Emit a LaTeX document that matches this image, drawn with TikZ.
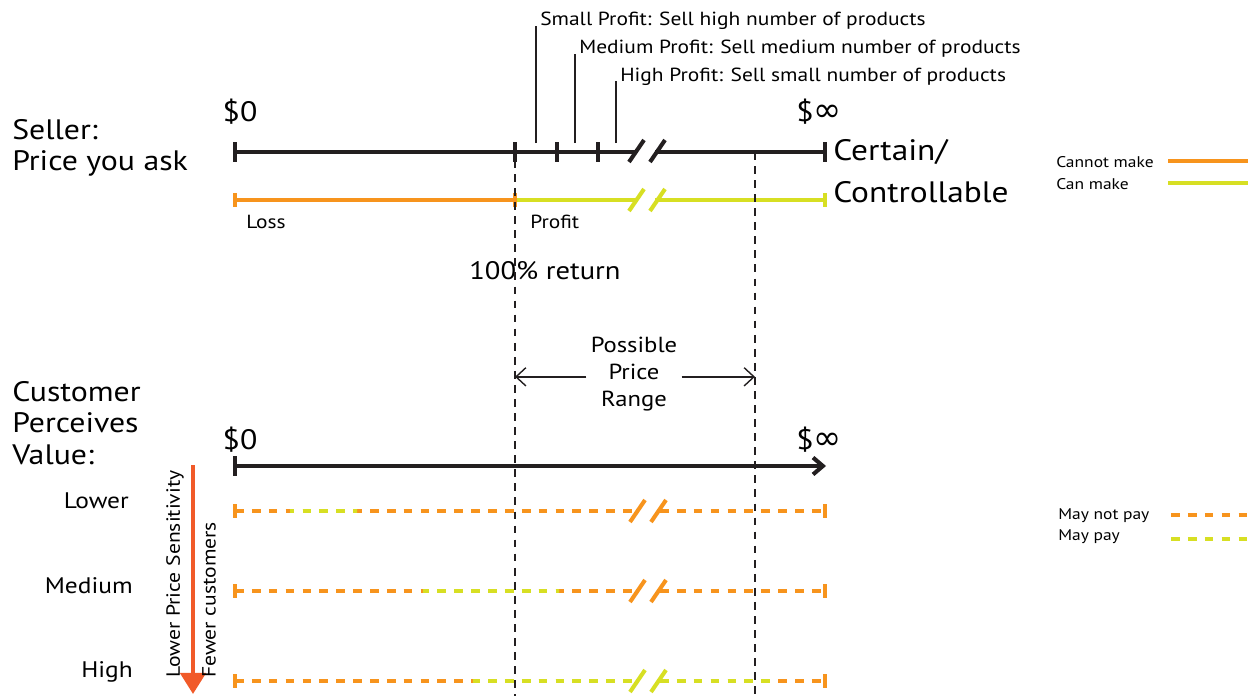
\documentclass[tikz,border=0pt]{standalone}
\usepackage{fontspec}
\setmainfont{PT Sans}[FakeStretch=1.13]
\newfontfamily\symfont{DejaVu Sans}
\usetikzlibrary{positioning,calc,arrows.meta}
\definecolor{lossorange}{RGB}{247,148,29}
\definecolor{profitgreen}{RGB}{215,223,35}
\definecolor{sensred}{RGB}{241,90,41}
\definecolor{inkblack}{RGB}{35,31,32}

\begin{document}
\begin{tikzpicture}[x=0.025cm, y=-0.025cm,
    axis/.style={line width=2.9pt, inkblack},
    tickmark/.style={line width=2.2pt, inkblack},
    solidpay/.style={line width=2.9pt},
    paydash/.style={line width=3pt, dash pattern=on 6.2pt off 5.8pt},
    guide/.style={line width=1pt, inkblack, dash pattern=on 5.5pt off 4.5pt},
    leader/.style={line width=1pt, inkblack},
    rangearrow/.style={-{Straight Barb[length=7pt, width=13pt]}, line width=1pt, inkblack},
    biglabel/.style={font=\fontsize{20}{22.3}\selectfont, inner sep=0pt, align=left},
    label/.style={font=\fontsize{13.5}{16}\selectfont, inner sep=0pt},
    rowlabel/.style={font=\fontsize{16}{19}\selectfont, inner sep=0pt},
    sidelabel/.style={font=\fontsize{13.6}{16}\selectfont, inner sep=0pt, rotate=90, anchor=west},
    legendlabel/.style={font=\fontsize{11}{13}\selectfont, inner sep=0pt}
]
\useasboundingbox (0,0) rectangle (1255,696);

% Seller axis
\node[biglabel, anchor=west] (seller) at (12,148) {Seller:\\Price you ask};
\node[biglabel, anchor=center] (zero1) at (240,112) {\$0};
\node[biglabel, anchor=center] (inf1) at (819,112) {\$\symfont\fontsize{24}{24}\selectfont ∞};
\node[biglabel, font=\fontsize{21}{24}\selectfont, anchor=west] (certain) at (833,152) {Certain/};
\node[biglabel, font=\fontsize{21}{24}\selectfont, anchor=west] (control) at (833,192) {Controllable};

\draw[axis] (235,152) -- (636,152) (655,152) -- (825,152);
\foreach \tx in {235,515,557,598,825}
    \draw[tickmark] (\tx,142) -- (\tx,162);
\foreach \sx in {629,650}
    \draw[axis] (\sx,162) -- ++(15,-22);

% Profit levels
\node[label, anchor=base west] (smallp) at (540,26) {Small Profit: Sell high number of products};
\node[label, anchor=base west] (medp) at (579,54) {Medium Profit: Sell medium number of products};
\node[label, anchor=base west] (highp) at (620,81) {High Profit: Sell small number of products};
\coordinate (ls) at (536,143);
\coordinate (lm) at (575,143);
\coordinate (lh) at (616,143);
\draw[leader] (ls) -- (ls |- smallp.base);
\draw[leader] (lm) -- (lm |- medp.base);
\draw[leader] (lh) -- (lh |- highp.base);

% Cost line
\draw[solidpay, lossorange] (235,200) -- (515,200);
\draw[solidpay, profitgreen] (515,200) -- (636,200) (655,200) -- (825,200);
\draw[tickmark, lossorange] (235,193) -- (235,207) (515,193) -- (515,207);
\draw[tickmark, profitgreen] (825,193) -- (825,207);
\foreach \sx in {629,650}
    \draw[solidpay, profitgreen] (\sx,211) -- ++(15,-22);
\node[label, anchor=west] (loss) at (246,222) {Loss};
\node[label, anchor=west] (profit) at (530,222) {Profit};
\node[font=\fontsize{18}{20}\selectfont, inner sep=0pt] (ret) at (545,271) {100\% return};

% Break-even and ceiling guides
\coordinate (be) at (515,160);
\coordinate (ce) at (755,152);
\draw[guide] (be) -- (be |- 0,696);
\draw[guide] (ce) -- (ce |- 0,696);

% Possible price range
\node[font=\fontsize{15.5}{19.2}\selectfont, inner sep=0pt, align=center] (pricerange) at (634,374) {Possible\\Price\\Range};
\draw[rangearrow] ([xshift=-3pt, yshift=-2pt]pricerange.west) -- ([yshift=-2pt]pricerange.west -| be);
\draw[rangearrow] ([xshift=3pt, yshift=-2pt]pricerange.east) -- ([yshift=-2pt]pricerange.east -| ce);

% Customer axis
\node[biglabel, anchor=west] (cust) at (12,423) {Customer\\Perceives\\Value:};
\node[biglabel, anchor=center] (zero2) at (240,440) {\$0};
\node[biglabel, anchor=center] (inf2) at (819,440) {\$\symfont\fontsize{24}{24}\selectfont ∞};
\draw[axis, -{Straight Barb[length=7pt, width=12pt]}] (235,466) -- (826,466);
\draw[tickmark] (235,456) -- (235,476);

% Sensitivity arrow
\draw[line width=2.9pt, sensred, -{Triangle[length=15pt, width=18pt]}] (193,465) -- (193,694);
\node[sidelabel] (sens) at (175,678) {Lower Price Sensitivity};
\node[sidelabel] (fewer) at (209,678) {Fewer customers};

\node[rowlabel, anchor=east] (lower) at (129,501) {Lower};
\node[rowlabel, anchor=east] (medium) at (133,586) {Medium};
\node[rowlabel, anchor=east] (high) at (133,672) {High};

% Willingness to pay rows
\foreach \yy/\ga/\gb/\brk in {511/290/357/lossorange, 591/423/559/lossorange, 681/473/773/profitgreen} {
    \draw[paydash, lossorange] (235,\yy) -- (633,\yy) (660,\yy) -- (825,\yy);
    \begin{scope}
        \clip (\ga,\yy-10) rectangle (\gb,\yy+10);
        \draw[paydash, profitgreen] (235,\yy) -- (633,\yy) (660,\yy) -- (825,\yy);
    \end{scope}
    \draw[tickmark, lossorange] (235,\yy-7) -- (235,\yy+7) (825,\yy-7) -- (825,\yy+7);
    \foreach \sx in {630,651}
        \draw[solidpay, \brk] (\sx,\yy+11) -- ++(15,-22);
}

% Legend
\node[legendlabel, anchor=west] (cannot) at (1056,162) {Cannot make};
\node[legendlabel, anchor=west] (can) at (1056,184) {Can make};
\draw[solidpay, lossorange] (1168,161) -- (1248,161);
\draw[solidpay, profitgreen] (1168,183) -- (1248,183);
\node[legendlabel, anchor=west] (notpay) at (1058,516) {May not pay};
\node[legendlabel, anchor=west] (pay) at (1058,537) {May pay};
\draw[paydash, lossorange] (1171,515) -- (1252,515);
\draw[paydash, profitgreen] (1171,539) -- (1252,539);

\end{tikzpicture}
\end{document}
